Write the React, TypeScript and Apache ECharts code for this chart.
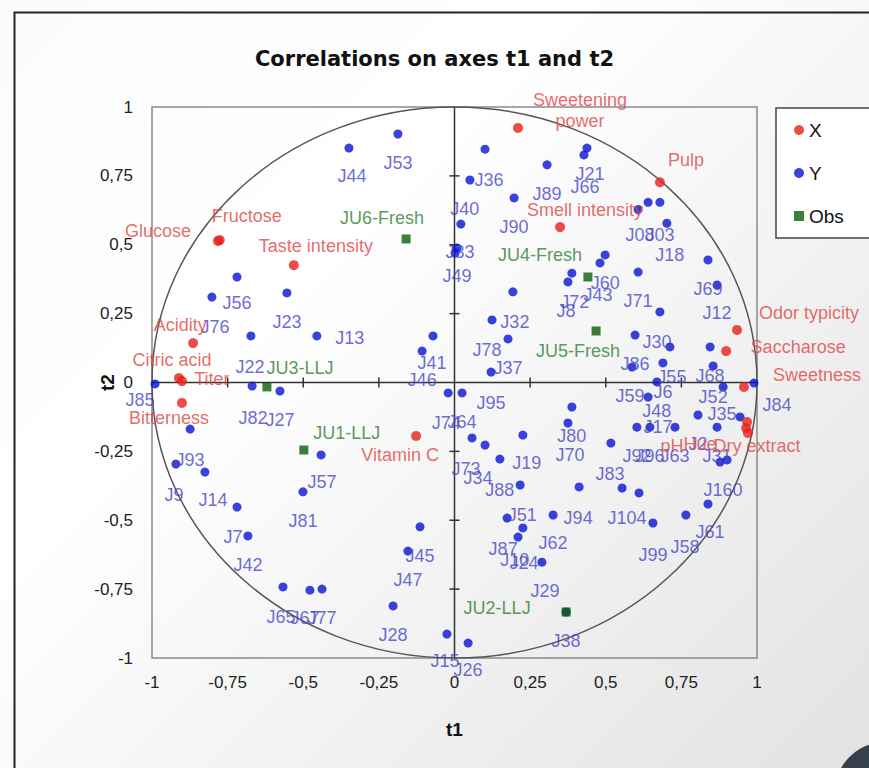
import React, { useEffect, useRef } from "react";
import * as echarts from "echarts";

// ---------- data ----------
const tickValues = [-1, -0.75, -0.5, -0.25, 0, 0.25, 0.5, 0.75, 1];

// Active variables (X)
const xNames = [
  "Sweetening\npower", "Pulp", "Smell intensity", "Glucose", "Fructose", "Taste intensity",
  "Acidity", "Citric acid", "Titer", "Bitterness", "Vitamin C", "Odor typicity",
  "Saccharose", "Sweetness", "pH", "Hue", "Dry extract",
];
const xT1 = [0.21, 0.679, 0.349, -0.782, -0.776, -0.531, -0.864, -0.911, -0.901, -0.901, -0.127, 0.934, 0.898, 0.957, 0.967, 0.97, 0.964];
const xT2 = [0.924, 0.727, 0.564, 0.514, 0.517, 0.426, 0.143, 0.016, 0.005, -0.074, -0.194, 0.191, 0.114, -0.016, -0.143, -0.183, -0.165];

// Dependent variables (Y)
const yNames = [
  "", "J36", "J89", "J21", "J66", "J90", "J40", "J33", "J49", "J44", "J53", "", "J08", "J03", "J18", "J69",
  "J12", "J60", "J43", "J72", "J8", "J71", "J32", "J78", "J37", "J95", "J30", "J86", "J59", "J55", "J6", "J48",
  "J17", "J68", "J52", "J35", "J84", "J2", "", "J31", "J92", "J96", "J63", "J80", "J70", "J83", "J19", "J74",
  "J64", "J73", "J34", "J88", "J51", "J87", "J62", "J10", "J24", "J29", "J94", "J104", "", "J99", "J58", "J61",
  "J160", "", "J38", "J15", "J26", "J28", "J47", "J45", "J41", "J46", "J57", "J81", "J93", "J9", "J14", "J7",
  "J42", "J65", "J67", "J77", "J56", "J76", "J23", "J13", "J22", "J82", "J27", "J85",
];
const yT1 = [
  0.101, 0.051, 0.306, 0.438, 0.428, 0.197, 0.021, 0.008, 0.002, -0.349, -0.187, 0.607, 0.64, 0.679, 0.702, 0.838,
  0.868, 0.498, 0.481, 0.388, 0.375, 0.607, 0.193, 0.124, 0.177, 0.121, 0.679, 0.597, 0.587, 0.712, 0.689, 0.669,
  0.64, 0.845, 0.855, 0.888, 0.99, 0.805, 0.944, 0.868, 0.603, 0.646, 0.729, 0.388, 0.375, 0.517, 0.226, -0.021,
  0.025, 0.058, 0.101, 0.15, 0.217, 0.174, 0.326, 0.226, 0.21, 0.289, 0.412, 0.554, 0.61, 0.656, 0.765, 0.838,
  0.878, 0.901, 0.369, -0.025, 0.045, -0.203, -0.154, -0.114, -0.071, -0.107, -0.441, -0.501, -0.874, -0.921, -0.825, -0.719,
  -0.683, -0.567, -0.478, -0.438, -0.719, -0.802, -0.554, -0.455, -0.673, -0.669, -0.577, -0.99,
];
const yT2 = [
  0.847, 0.735, 0.79, 0.851, 0.826, 0.67, 0.575, 0.488, 0.47, 0.851, 0.902, 0.628, 0.654, 0.654, 0.578, 0.445,
  0.354, 0.463, 0.434, 0.397, 0.365, 0.401, 0.329, 0.227, 0.158, 0.038, 0.256, 0.172, 0.056, 0.129, 0.071, 0.002,
  -0.053, 0.129, 0.06, -0.016, -0.002, -0.118, -0.125, -0.162, -0.162, -0.162, -0.162, -0.089, -0.147, -0.22, -0.191, -0.038,
  -0.038, -0.201, -0.227, -0.278, -0.372, -0.492, -0.481, -0.528, -0.561, -0.652, -0.379, -0.383, -0.401, -0.51, -0.481, -0.441,
  -0.289, -0.281, -0.833, -0.913, -0.946, -0.811, -0.612, -0.524, 0.169, 0.114, -0.263, -0.397, -0.169, -0.296, -0.325, -0.452,
  -0.557, -0.742, -0.754, -0.75, 0.383, 0.31, 0.325, 0.169, 0.169, -0.013, -0.031, -0.005,
];

// Observations
const obsNames = ["JU6-Fresh", "JU4-Fresh", "JU5-Fresh", "JU3-LLJ", "JU1-LLJ", "JU2-LLJ"];
const obsT1 = [-0.16, 0.441, 0.468, -0.62, -0.498, 0.369];
const obsT2 = [0.521, 0.383, 0.187, -0.016, -0.245, -0.833];

// ---------- label placement (pixels, relative to the point) ----------
const xLabelOffsets: [number, number][] = [
  [62, -17], [26, -22], [25, -17], [-60, -10], [27, -24], [22, -19],
  [-13, -18], [-7, -18], [30, -2], [-13, 15], [-16, 19], [72, -17],
  [72, -4], [73, -12], [-75, 24], [-48, 11], [11, 18],
];
const obsLabelOffsets: [number, number][] = [
  [-24, -21], [-48, -22], [-18, 20], [33, -19], [43, -17], [-69, -4],
];
const yLabelDefault: [number, number] = [0, 29];
const yLabelOverrides: Record<string, [number, number]> = {
  J36: [19, 0], J21: [3, 26], J66: [1, 32], J40: [4, -15], J33: [3, 4], J49: [2, 23], J44: [3, 28],
  J08: [-8, 33], J03: [0, 33], J18: [3, 32], J12: [0, 28], J60: [0, 28], J43: [-2, 32], J72: [3, 29],
  J8: [-2, 29], J32: [2, 30], J78: [-5, 30], J95: [0, 31], J30: [-3, 30], J59: [-2, 29], J55: [2, 30],
  J52: [0, 31], J35: [-1, 27], J84: [23, 22], J17: [10, 30], J70: [2, 32], J83: [-1, 31], J19: [4, 28],
  J74: [-2, 30], J73: [-6, 31], J34: [-7, 33], J88: [0, 31], J51: [2, 30], J87: [-4, 31], J62: [0, 28],
  J10: [-8, 32], J24: [6, 26], J29: [3, 29], J94: [-1, 31], J104: [5, 30], J99: [0, 32], J58: [-1, 32],
  J61: [2, 28], J160: [3, 28], J15: [-2, 27], J26: [0, 27], J41: [-1, 27], J57: [1, 27], J93: [0, 31],
  J9: [-2, 31], J14: [8, 28], J7: [-4, 30], J65: [-2, 30], J67: [-5, 28], J56: [0, 26], J76: [3, 30],
  J13: [33, 2], J22: [-1, 31], J82: [1, 32], J85: [-15, 16],
};

const FONT = "'Liberation Sans', Arial, sans-serif";

export default function App() {
  const ref = useRef<HTMLDivElement>(null);

  useEffect(() => {
    if (!ref.current) return;
    const chart = echarts.init(ref.current, undefined, { renderer: "svg" });

    const labelBase = { show: true, position: "inside", fontFamily: FONT, fontSize: 18 };

    const xData = xNames.map((n, i) => ({
      name: n,
      value: [xT1[i], xT2[i]],
      label: { offset: xLabelOffsets[i] },
    }));
    const yData = yNames.map((n, i) => ({
      name: n,
      value: [yT1[i], yT2[i]],
      label: { offset: yLabelOverrides[n] || yLabelDefault },
    }));
    const obsData = obsNames.map((n, i) => ({
      name: n,
      value: [obsT1[i], obsT2[i]],
      label: { offset: obsLabelOffsets[i] },
    }));

    const axisLabelFmt = (v: number) => String(v).replace(".", ",");

    chart.setOption({
      animation: false,
      backgroundColor: "transparent",
      title: {
        text: "Correlations on axes t1 and t2",
        left: "center",
        top: 43,
        textStyle: { fontFamily: "'DejaVu Sans', sans-serif", fontWeight: "bold", fontSize: 21, color: "#111" },
      },
      legend: {
        orient: "vertical",
        left: 776,
        top: 108,
        padding: [12, 60, 12, 18],
        itemGap: 23,
        itemWidth: 10,
        itemHeight: 10,
        borderColor: "#444",
        borderWidth: 1.5,
        backgroundColor: "#fff",
        data: [
          { name: "X", icon: "circle" },
          { name: "Y", icon: "circle" },
          { name: "Obs", icon: "rect" },
        ],
        textStyle: { fontFamily: FONT, fontSize: 19, color: "#111", lineHeight: 20 },
      },
      grid: {
        left: 152,
        right: 112,
        top: 107,
        bottom: 110,
        show: true,
        borderColor: "#8a8a8a",
        borderWidth: 1.5,
        backgroundColor: "transparent",
      },
      xAxis: {
        type: "value",
        min: tickValues[0],
        max: tickValues[tickValues.length - 1],
        interval: 0.25,
        name: "t1",
        nameLocation: "middle",
        nameGap: 62,
        nameTextStyle: { fontFamily: FONT, fontWeight: "bold", fontSize: 19, color: "#111" },
        axisLine: { show: false },
        axisTick: { show: false },
        splitLine: { show: false },
        axisLabel: { formatter: axisLabelFmt, fontFamily: FONT, fontSize: 17, color: "#222", margin: 16 },
      },
      yAxis: {
        type: "value",
        min: tickValues[0],
        max: tickValues[tickValues.length - 1],
        interval: 0.25,
        name: "t2",
        nameLocation: "middle",
        nameGap: 35,
        nameRotate: 90,
        nameMoveOverlap: false,
        nameTextStyle: { fontFamily: FONT, fontWeight: "bold", fontSize: 19, color: "#111" },
        axisLine: { show: false },
        axisTick: { show: false },
        splitLine: { show: false },
        axisLabel: { formatter: axisLabelFmt, fontFamily: FONT, fontSize: 17, color: "#222", margin: 19 },
      },
      series: [
        {
          type: "custom",
          name: "circle",
          silent: true,
          clip: false,
          z: 1,
          data: [[0, 0]],
          renderItem: (_p: any, api: any) => {
            const c = api.coord([0, 0]);
            const s = api.size([1, 1]);
            return {
              type: "ellipse",
              shape: { cx: c[0], cy: c[1], rx: s[0], ry: s[1] },
              style: { fill: "none", stroke: "#555", lineWidth: 1.5 },
            };
          },
        },
        {
          type: "custom",
          name: "axes",
          silent: true,
          clip: false,
          z: 1,
          data: [[0, 0]],
          renderItem: (_p: any, api: any) => {
            const lo = tickValues[0];
            const hi = tickValues[tickValues.length - 1];
            const l = api.coord([lo, 0]);
            const r = api.coord([hi, 0]);
            const t = api.coord([0, hi]);
            const b = api.coord([0, lo]);
            const st = { stroke: "#333", lineWidth: 1.5 };
            const children: any[] = [
              { type: "line", shape: { x1: l[0], y1: l[1], x2: r[0], y2: r[1] }, style: st },
              { type: "line", shape: { x1: t[0], y1: t[1], x2: b[0], y2: b[1] }, style: st },
            ];
            tickValues.forEach((v) => {
              if (v === 0 || v === lo || v === hi) return;
              const p = api.coord([v, 0]);
              children.push({ type: "line", shape: { x1: p[0], y1: p[1] - 5, x2: p[0], y2: p[1] + 5 }, style: st });
              const q = api.coord([0, v]);
              children.push({ type: "line", shape: { x1: q[0] - 5, y1: q[1], x2: q[0] + 5, y2: q[1] }, style: st });
            });
            return { type: "group", children };
          },
        },
        {
          type: "scatter",
          name: "X",
          symbol: "circle",
          symbolSize: 10,
          z: 3,
          itemStyle: { color: "#e8201a" },
          label: { ...labelBase, color: "#e04545", formatter: (p: any) => p.name, lineHeight: 21 },
          data: xData,
        },
        {
          type: "scatter",
          name: "Y",
          symbol: "circle",
          symbolSize: 9,
          z: 2,
          itemStyle: { color: "#0814d0" },
          label: { ...labelBase, color: "#4646c8", formatter: (p: any) => p.name },
          data: yData,
        },
        {
          type: "scatter",
          name: "Obs",
          symbol: "rect",
          symbolSize: 9,
          z: 4,
          itemStyle: { color: "#0b5e0b" },
          label: { ...labelBase, color: "#2e7d32", formatter: (p: any) => p.name },
          data: obsData,
        },
      ],
      graphic: [
        {
          type: "rect",
          left: 12,
          top: 10,
          shape: { width: 900, height: 800 },
          style: { fill: "none", stroke: "#222", lineWidth: 2 },
          silent: true,
          z: -1,
        },
        {
          type: "circle",
          shape: { cx: 885, cy: 792, r: 50 },
          style: { fill: "#34404c" },
          silent: true,
        },
      ],
    });

    return () => chart.dispose();
  }, []);

  return (
    <div
      ref={ref}
      style={{
        position: "fixed",
        left: 0,
        top: 0,
        width: 869,
        height: 768,
        background: "linear-gradient(135deg, #fbfbfb 0%, #ffffff 35%, #ebebeb 80%, #e2e2e2 100%)",
      }}
    />
  );
}
